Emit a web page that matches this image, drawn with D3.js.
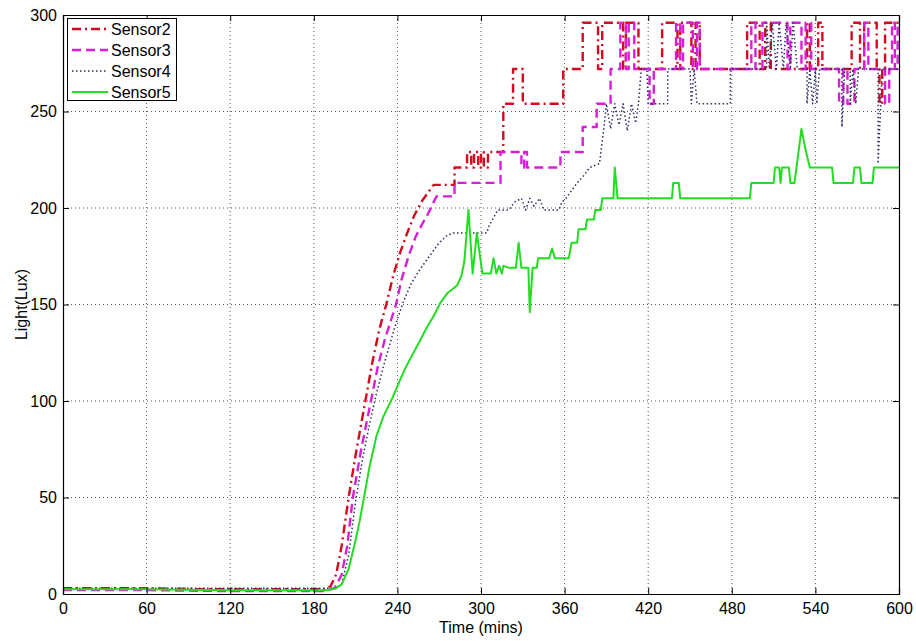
<!DOCTYPE html>
<html><head><meta charset="utf-8">
<script src="https://cdn.jsdelivr.net/npm/d3@7"></script>
<style>body{margin:0;background:#fff}text{font-family:"Liberation Sans",Arial,sans-serif}</style>
</head><body><svg id="c" width="916" height="641"></svg>
<script>
const xTicks=[0,60,120,180,240,300,360,420,480,540,600];
const yTicks=[0,50,100,150,200,250,300];
const sensorNames=["Sensor2","Sensor3","Sensor4","Sensor5"];
const xTitle="Time (mins)";
const yTitle="Light(Lux)";
const sensor2=[[0,3],[50,3],[100,2.5],[150,2.5],[188,2.5],[192,4],[196,10],[200,25],[205,50],[210,72],[217,100],[222,120],[227,137],[232,150],[237,165],[242,177],[247,187],[252,196],[258,204],[262,208],[266,212],
[281,212],[281,221],[290,221],[290,229],[293,229],[293,221],[295,221],[295,229],[298,229],[298,221],[300,221],[300,229],[302,229],[302,221],[305,221],[305,229],[316,229],[316,254],[323,254],[323,272],[330,272],[330,254],[359,254],[359,272],[373,272],[373,296],
[384,296],[384,272],[387,272],[387,296],[402,296],[402,272],[404,272],[404,296],[413,296],[413,272],[430,272],[430,296],[441,296],[441,272],[443,272],[443,296],[451,296],[451,272],[454,272],[454,296],[457,296],[457,272],[491,272],[491,296],[500,296],[500,272],[504,272],[504,296],[508,296],[508,272],[534,272],[534,296],[536,296],[536,272],[542,272],[542,296],[545,296],[545,272],[566,272],[566,296],[572,296],[572,272],[575,272],[575,296],[584,296],[584,272],[586,272],[586,254],[588,254],[588,272],[590,272],[590,296],[600,296]];
const sensor3=[[0,2],[60,2],[120,1.5],[188,1.5],[195,3],[200,10],[204,25],[208,50],[214,75],[221,100],[226,118],[231,132],[239,150],[243,163],[248,175],[253,185],[258,192],[262,197],[268,206],[281,206],[281,213],[314,213],[314,229],[329,229],[329,221],[331,221],[331,229],[333,229],[333,221],[357,221],[357,229],[373,229],[373,242],[383,242],[383,254],[393,254],[393,272],[400,272],[400,296],[404,296],[404,272],[406,272],[406,296],[410,296],[410,272],[421,272],[421,254],[424,254],[424,272],[440,272],[440,296],[443,296],[443,272],[445,272],[445,296],[452,296],[452,272],[455,272],[455,296],[457,296],[457,272],[494,272],[494,296],[497,296],[497,272],[502,272],[502,296],[520,296],[520,272],[522,272],[522,296],[530,296],[530,272],[533,272],[533,296],[537,296],[537,272],[557,272],[557,254],[560,254],[560,272],[563,272],[563,254],[568,254],[568,272],[575,272],[575,296],[578,296],[578,272],[590,272],[590,254],[593,254],[593,272],[595,272],[595,296],[597,296],[597,272],[599,272],[599,296],[600,296]];
const sensor4=[[0,3],[60,3],[120,3],[188,3],[195,3],[200,5],[205,20],[210,48],[215,70],[220,88],[225,104],[230,118],[234,128],[238,138],[244,151],[250,161],[256,168],[263,175],[270,182],[276,186],[280,187],[304,187],[306,191],[312,199],[320,199],[324,203],[329,205],[332,199],[335,205],[338,201],[342,205],[345,199],[356,199],[358,203],[361,205],[365,209],[369,213],[374,217],[378,221],[385,223],[388,240],[390,254],[393,241],[396,254],[399,243],[402,254],[405,240],[408,254],[411,244],[413,254],[415,272],[419,272],[420,254],[434,254],[434,272],[450,272],[451,254],[453,272],[455,254],[479,254],[479,272],[505,272],[505,296],[507,272],[509,296],[512,272],[514,296],[517,272],[519,296],[522,272],[524,296],[527,272],[534,272],[534,254],[536,272],[538,254],[540,272],[541,254],[543,272],[559,272],[559,242],[561,272],[565,272],[565,254],[567,272],[569,254],[571,272],[585,272],[585,223],[588,272],[600,272]];
const sensor5=[[0,2.5],[60,2.5],[120,2],[190,2],[196,3],[200,5],[205,13],[210,28],[213,38],[216,50],[220,66],[225,82],[230,92],[236,101],[245,116],[250,123],[256,131],[261,138],[266,144],[271,151],[276,156],[283,160],[286,165],[288,172],[291,199],[294,166],[297,187],[301,166],[307,166],[309,174],[311,166],[313,170],[315,166],[316,170],[320,169],[325,169],[327,182],[329,169],[334,169],[335,146],[337,169],[340,169],[341,174],[349,174],[351,179],[353,174],[363,174],[365,182],[369,182],[370,189],[375,189],[376,194],[381,194],[382,199],[386,199],[387,205],[395,205],[396,221],[398,205],[437,205],[438,213],[442,213],[443,205],[493,205],[494,213],[510,213],[511,221],[514,221],[515,213],[516,221],[521,221],[522,213],[525,213],[530,241],[533,230],[536,221],[552,221],[553,213],[567,213],[568,221],[572,221],[573,213],[581,213],[582,221],[600,221]];
const seriesData=[sensor2,sensor3,sensor4,sensor5];
const colors=["#d40a1e","#d81ed8","#2c2c66","#22dd22"];
const dashes=["9,4,2,4","9,5","1.5,2.5",null];
const widths=[2.4,2.4,1.5,2];

const svg=d3.select("#c");
const L=63,R=899,T=15,B=594;
const x=d3.scaleLinear().domain([0,600]).range([L,R]);
const y=d3.scaleLinear().domain([0,300]).range([B,T]);

// grid
const g=svg.append("g");
g.selectAll(".vg").data(xTicks.slice(1,-1)).enter().append("line")
 .attr("x1",d=>x(d)).attr("x2",d=>x(d)).attr("y1",T).attr("y2",B)
 .attr("stroke","#555").attr("stroke-width",1).attr("stroke-dasharray","1,3");
g.selectAll(".hg").data(yTicks.slice(1,-1)).enter().append("line")
 .attr("y1",d=>y(d)).attr("y2",d=>y(d)).attr("x1",L).attr("x2",R)
 .attr("stroke","#555").attr("stroke-width",1).attr("stroke-dasharray","1,3");

// lines
const line=d3.line().x(d=>x(d[0])).y(d=>y(d[1]));
seriesData.forEach((s,i)=>{
  svg.append("path").datum(s).attr("d",line).attr("fill","none")
   .attr("stroke",colors[i]).attr("stroke-width",widths[i])
   .attr("stroke-dasharray",dashes[i]).attr("stroke-linejoin","round");
});

// axes
const ax=svg.append("g").attr("transform",`translate(0,${B})`)
 .call(d3.axisBottom(x).tickValues(xTicks).tickSize(-6).tickPadding(9).tickFormat(d3.format("d")));
const axT=svg.append("g").attr("transform",`translate(0,${T})`)
 .call(d3.axisTop(x).tickValues(xTicks).tickSize(-6).tickFormat(""));
const ay=svg.append("g").attr("transform",`translate(${L},0)`)
 .call(d3.axisLeft(y).tickValues(yTicks).tickSize(-6).tickPadding(6).tickFormat(d3.format("d")));
const ayR=svg.append("g").attr("transform",`translate(${R},0)`)
 .call(d3.axisRight(y).tickValues(yTicks).tickSize(-6).tickFormat(""));
[ax,axT,ay,ayR].forEach(a=>{
  a.select(".domain").attr("stroke","#000").attr("stroke-width",1.2);
  a.selectAll(".tick line").attr("stroke","#000");
  a.selectAll("text").attr("font-size","16px").attr("fill","#000")
   .style("font-family",'"Liberation Sans",Arial,sans-serif');
});
ax.selectAll(".tick text").attr("dy","0.71em");

svg.append("text").attr("x",(L+R)/2).attr("y",633).attr("text-anchor","middle")
 .attr("font-size","16px").text(xTitle);
svg.append("text").attr("transform",`translate(27,${(T+B)/2}) rotate(-90)`)
 .attr("text-anchor","middle").attr("font-size","16px").text(yTitle);

// legend
const lg=svg.append("g");
lg.append("rect").attr("x",67.5).attr("y",18.5).attr("width",109).attr("height",82)
 .attr("fill","#fff").attr("stroke","#000").attr("stroke-width",1);
sensorNames.forEach((n,i)=>{
  const yy=29+i*21;
  lg.append("line").attr("x1",72).attr("x2",108).attr("y1",yy).attr("y2",yy)
   .attr("stroke",colors[i]).attr("stroke-width",widths[i]).attr("stroke-dasharray",dashes[i]);
  lg.append("text").attr("x",111).attr("y",yy+6).attr("font-size","16px").text(n);
});
</script></body></html>
